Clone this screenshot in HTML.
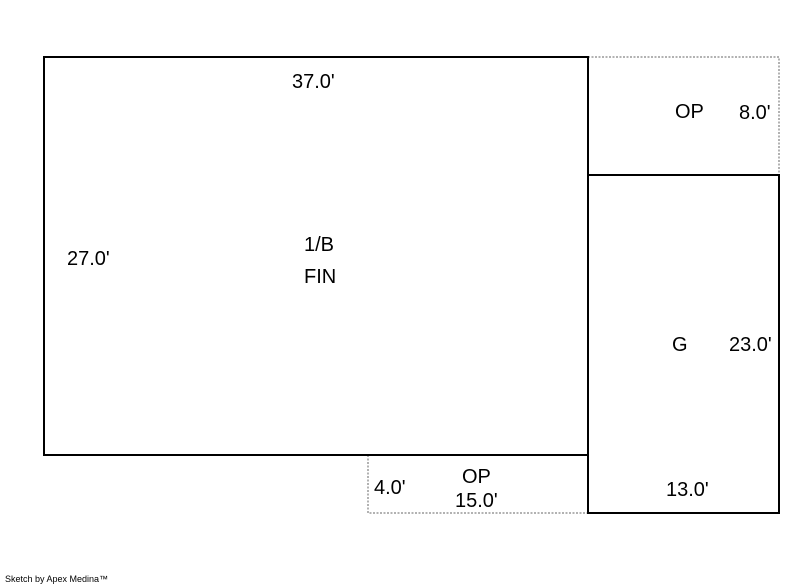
<!DOCTYPE html>
<html><head><meta charset="utf-8"><style>
html,body{margin:0;padding:0;background:#fff;width:800px;height:587px;overflow:hidden}
svg text{font-family:"Liberation Sans",Arial,sans-serif;font-size:20px;fill:#000}
</style></head><body>
<svg width="800" height="587" viewBox="0 0 800 587" xmlns="http://www.w3.org/2000/svg">
<g fill="none" stroke="#999" stroke-width="1.5" stroke-dasharray="2,1.5">
<polyline points="588,57 779,57 779,175"/>
<polyline points="368,455 368,513 588,513"/>
</g>
<g fill="none" stroke="#000" stroke-width="2">
<rect x="44" y="57" width="544" height="398"/>
<rect x="588" y="175" width="191" height="338"/>
</g>
<text x="292" y="88">37.0'</text>
<text x="67" y="265">27.0'</text>
<text x="304" y="251">1/B</text>
<text x="304" y="283">FIN</text>
<text x="675" y="118">OP</text>
<text x="739" y="119">8.0'</text>
<text x="672" y="351">G</text>
<text x="729" y="351">23.0'</text>
<text x="666" y="496">13.0'</text>
<text x="462" y="483">OP</text>
<text x="455" y="507">15.0'</text>
<text x="374" y="494">4.0'</text>
<text x="5" y="582" style="font-size:9px">Sketch by Apex Medina™</text>
</svg>
</body></html>
